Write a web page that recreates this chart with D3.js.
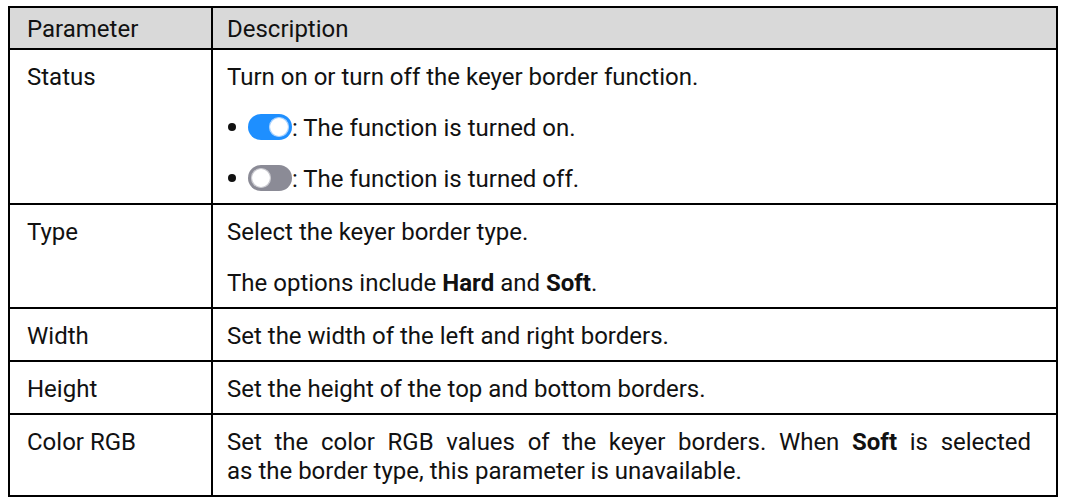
<!DOCTYPE html>
<html>
<head>
<meta charset="utf-8">
<script src="https://cdn.jsdelivr.net/npm/d3@7"></script>
<style>
  html, body { margin: 0; padding: 0; background: #ffffff; }
  svg { display: block; }
  text { font-family: Roboto, "Noto Sans", sans-serif; }
</style>
</head>
<body>
<div id="chart"></div>
<script>
// ---- data ----
const headers = ["Parameter", "Description"];
const params = ["Status", "Type", "Width", "Height", "Color RGB"];
// descriptions: each row -> paragraphs -> lines -> segments [text, bold]
const statusDesc = [
  { lines: [[["Turn on or turn off the keyer border function.", false]]] },
  { bullet: "on", lines: [[[": The function is turned on.", false]]] },
  { bullet: "off", lines: [[[": The function is turned off.", false]]] }
];
const typeDesc = [
  { lines: [[["Select the keyer border type.", false]]] },
  { lines: [[["The options include ", false], ["Hard", true], [" and ", false], ["Soft", true], [".", false]]] }
];
const widthDesc = [
  { lines: [[["Set the width of the left and right borders.", false]]] }
];
const heightDesc = [
  { lines: [[["Set the height of the top and bottom borders.", false]]] }
];
const colorDesc = [
  { lines: [
    [["Set the color RGB values of the keyer borders. When ", false], ["Soft", true], [" is selected", false]],
    [["as the border type, this parameter is unavailable.", false]]
  ] }
];
const descriptions = [statusDesc, typeDesc, widthDesc, heightDesc, colorDesc];

// ---- layout ----
const W = 1066, H = 500;
const tableLeft = 9, tableRight = 1057, colSplit = 212, tableTop = 7;
const headerH = 42;
const padTop = 27, padBottom = 26, linePitch = 29, paraPitch = 51;
const fontSize = 24;
const justifyRight = 1031;

function rowHeight(paras) {
  let h = padTop + padBottom;
  paras.forEach((p, i) => {
    if (i > 0) h += paraPitch;
    h += (p.lines.length - 1) * linePitch;
  });
  return h;
}

const rows = [];
let y = tableTop + headerH;
params.forEach((p, i) => {
  const h = rowHeight(descriptions[i]);
  rows.push({ param: p, desc: descriptions[i], y0: y, y1: y + h });
  y += h;
});
const tableBottom = y;

const svg = d3.select("#chart").append("svg").attr("width", W).attr("height", H);

// header background
svg.append("rect")
  .attr("x", tableLeft).attr("y", tableTop)
  .attr("width", tableRight - tableLeft).attr("height", headerH)
  .attr("fill", "#d9d9d9");

// header text
const colX = [tableLeft + 18, colSplit + 15];
svg.selectAll("text.hdr").data(headers).join("text")
  .attr("class", "hdr")
  .attr("x", (d, i) => colX[i])
  .attr("y", tableTop + headerH / 2)
  .attr("dy", "0.36em")
  .attr("font-size", fontSize)
  .attr("fill", "#111")
  .text(d => d);

// rows
const g = svg.selectAll("g.row").data(rows).join("g").attr("class", "row");

g.append("text")
  .attr("x", colX[0])
  .attr("y", d => d.y0 + padTop)
  .attr("dy", "0.36em")
  .attr("font-size", fontSize)
  .attr("fill", "#111")
  .text(d => d.param);

function drawToggle(sel, x, cy, on) {
  const w = 44, h = 26;
  const tg = sel.append("g").attr("transform", `translate(${x},${cy - h / 2})`);
  tg.append("rect").attr("width", w).attr("height", h).attr("rx", h / 2)
    .attr("fill", on ? "#1e8fff" : "#8b8b96");
  const r = h / 2 - 3.5;
  tg.append("circle")
    .attr("cx", on ? w - h / 2 : h / 2).attr("cy", h / 2).attr("r", r)
    .attr("fill", "#ffffff")
    .attr("stroke", on ? "#a9d2ff" : "#c9c9cf").attr("stroke-width", 1.2);
  return w;
}

rows.forEach((row, ri) => {
  const rg = d3.select(g.nodes()[ri]);
  let ly = row.y0 + padTop;
  row.desc.forEach((para, pi) => {
    if (pi > 0) ly += paraPitch;
    para.lines.forEach((line, li) => {
      if (li > 0) ly += linePitch;
      let tx = colX[1];
      if (para.bullet) {
        rg.append("circle").attr("cx", colX[1] + 5).attr("cy", ly).attr("r", 4).attr("fill", "#111");
        tx = colX[1] + 21;
        const tw = drawToggle(rg, tx, ly, para.bullet === "on");
        tx += tw;
      }
      const t = rg.append("text")
        .attr("x", tx).attr("y", ly).attr("dy", "0.36em")
        .attr("font-size", fontSize).attr("fill", "#111");
      t.selectAll("tspan").data(line).join("tspan")
        .attr("font-weight", d => d[1] ? "bold" : null)
        .text(d => d[0]);
      // justify non-final lines of a wrapped paragraph
      if (li < para.lines.length - 1) {
        const natural = t.node().getComputedTextLength();
        const spaces = line.map(d => d[0]).join("").split(" ").length - 1;
        const extra = (justifyRight - tx - natural) / spaces;
        if (extra > 0) t.attr("word-spacing", extra);
      }
    });
  });
});

// grid lines
const hLines = [tableTop, tableTop + headerH].concat(rows.map(r => r.y1));
svg.selectAll("line.h").data(hLines).join("line")
  .attr("class", "h")
  .attr("x1", tableLeft - 1).attr("x2", tableRight + 1)
  .attr("y1", d => d).attr("y2", d => d)
  .attr("stroke", "#000").attr("stroke-width", 2);
const vLines = [tableLeft, colSplit, tableRight];
svg.selectAll("line.v").data(vLines).join("line")
  .attr("class", "v")
  .attr("x1", d => d).attr("x2", d => d)
  .attr("y1", tableTop).attr("y2", tableBottom)
  .attr("stroke", "#000").attr("stroke-width", 2);
</script>
</body>
</html>
